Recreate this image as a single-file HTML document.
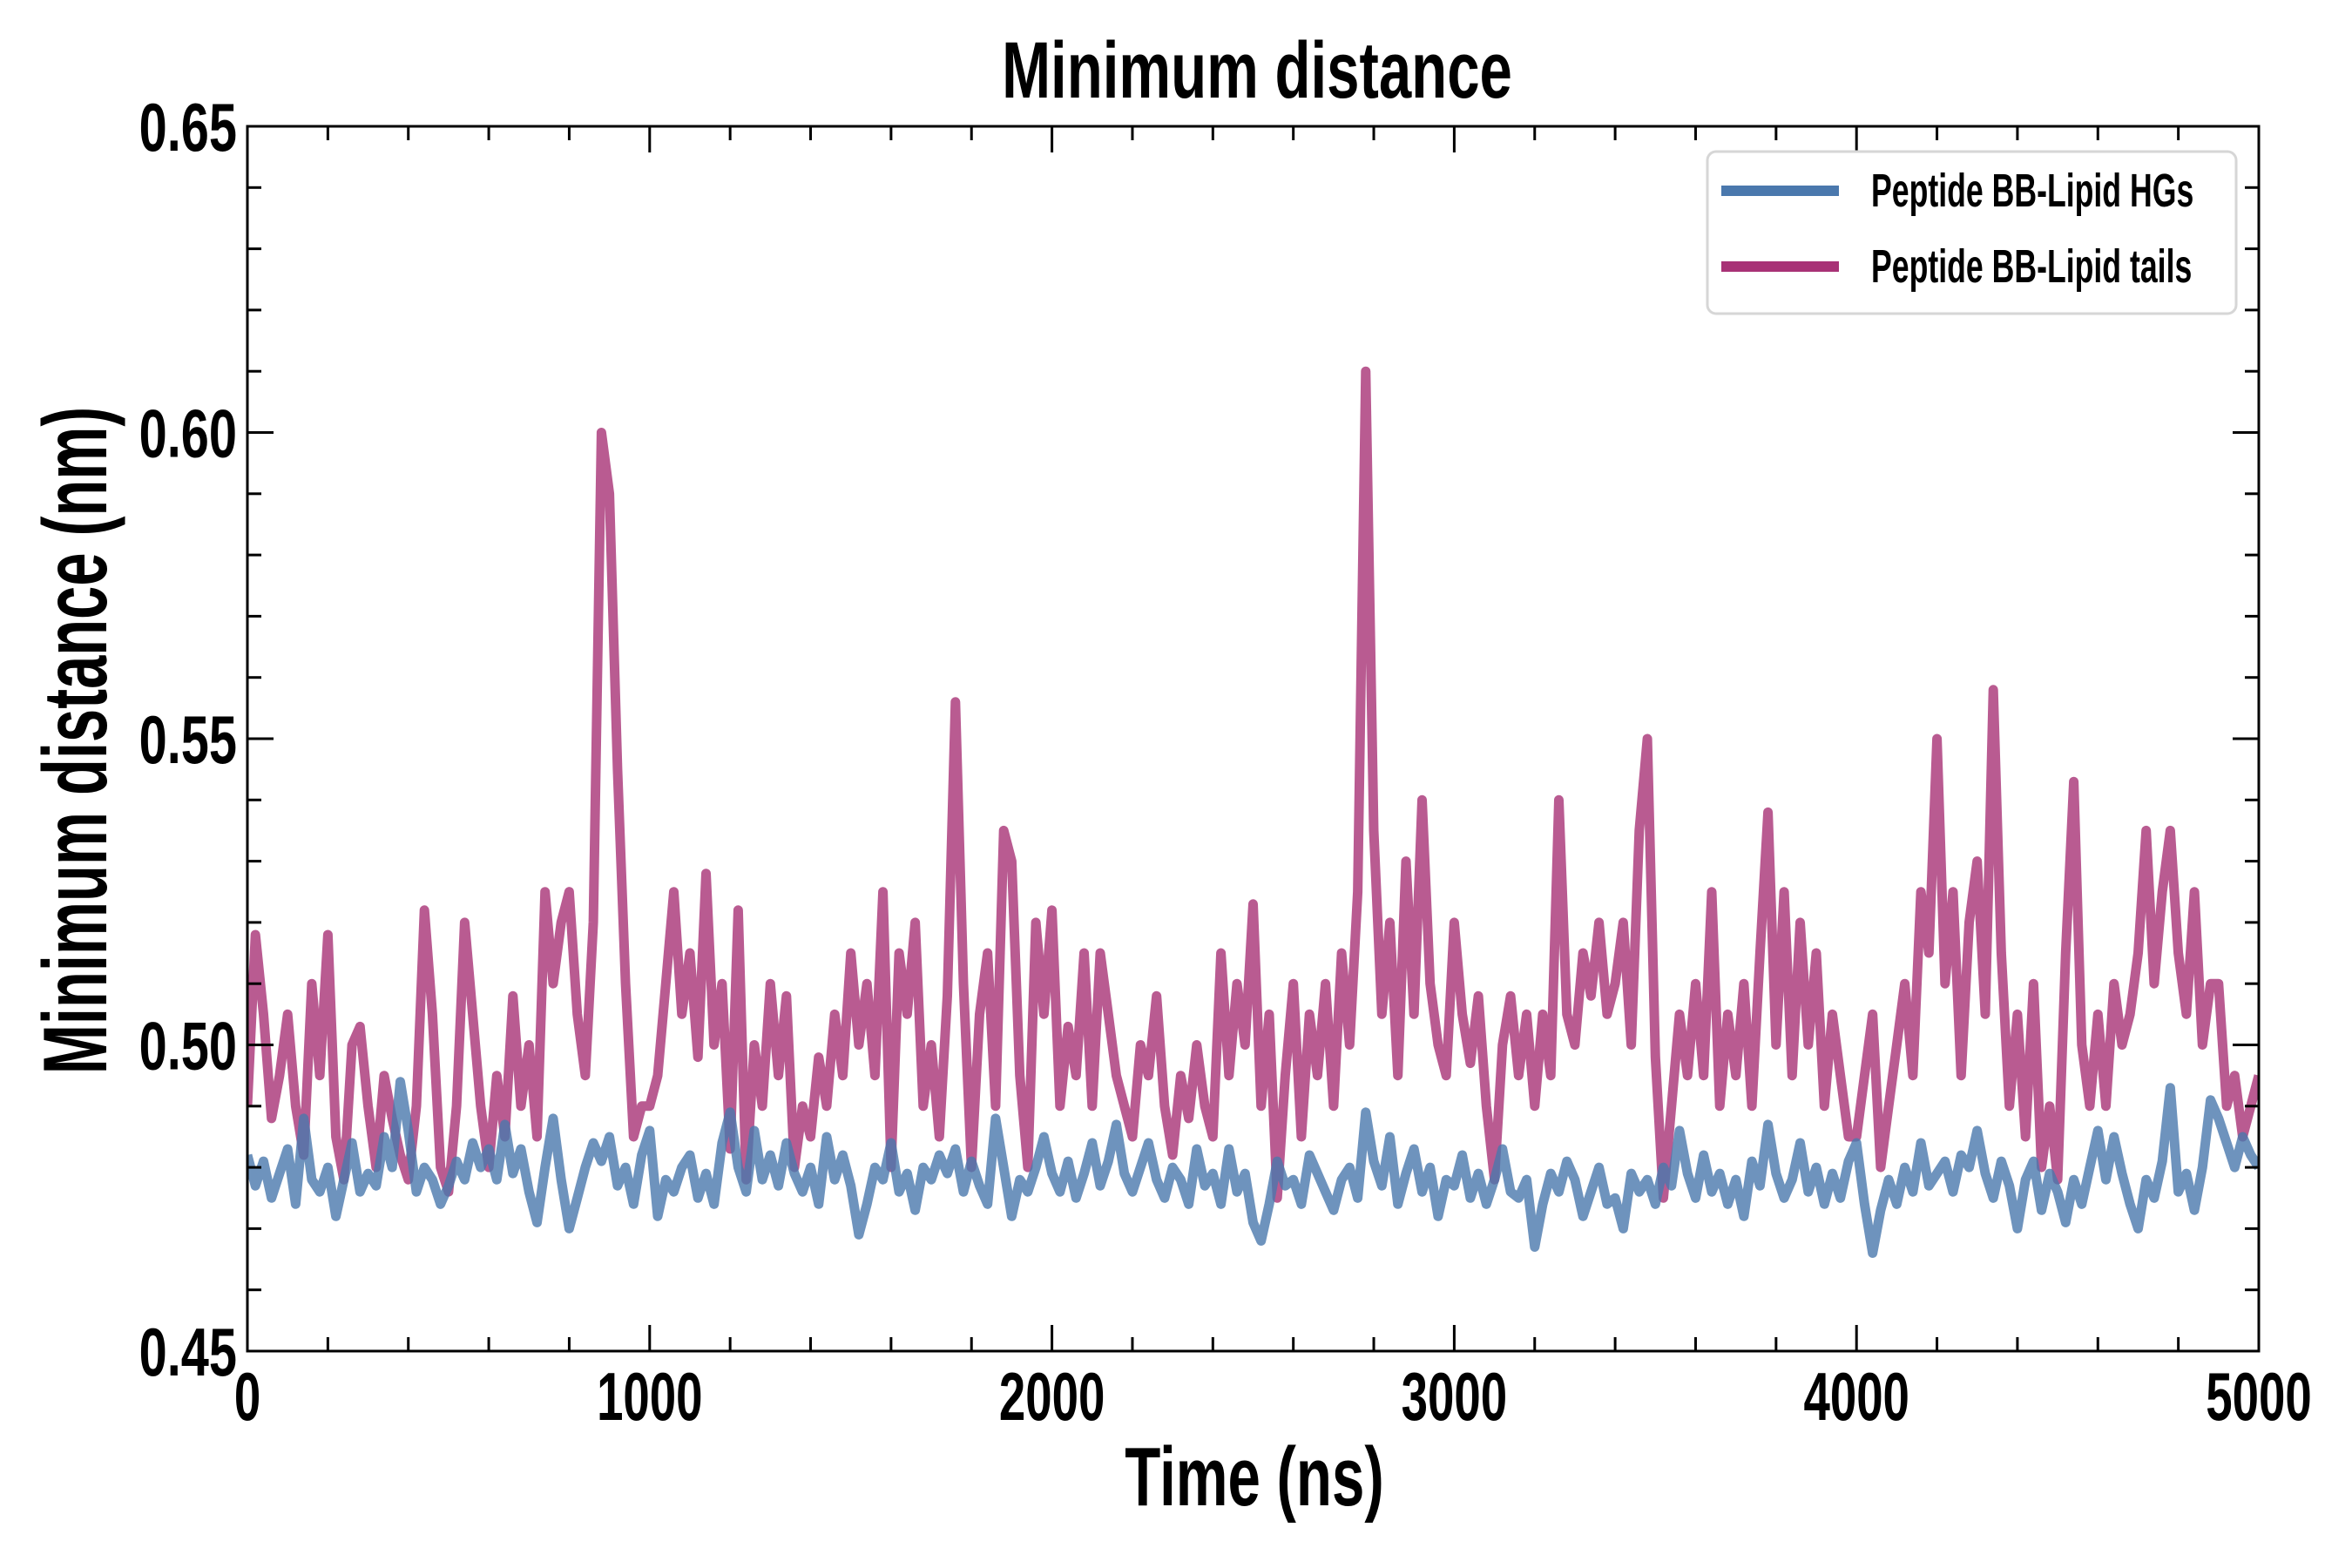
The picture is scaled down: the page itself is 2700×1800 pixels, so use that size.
<!DOCTYPE html>
<html><head><meta charset="utf-8">
<style>
html,body{margin:0;padding:0;background:#fff;}
svg{display:block;}
text{font-family:"Liberation Sans",sans-serif;font-weight:bold;fill:#000;}
</style></head>
<body>
<svg id="chart" width="2700" height="1800" viewBox="0 0 2700 1800">
  <g id="plot"></g>
</svg>
<script>
const timeStep = 20;
const tailsValues = [
0.49,0.518,0.505,0.488,0.495, 0.505,0.49,0.482,0.51,0.495, 0.518,0.485,0.478,0.5,0.503,
0.49,0.48,0.495,0.488,0.482, 0.478,0.49,0.522,0.505,0.48, 0.476,0.49,0.52,0.505,0.49,
0.48,0.495,0.485,0.508,0.49, 0.5,0.485,0.525,0.51,0.52, 0.525,0.505,0.495,0.52,0.6,
0.59,0.545,0.51,0.485,0.49, 0.49,0.495,0.51,0.525,0.505, 0.515,0.498,0.528,0.5,0.51,
0.483,0.522,0.478,0.5,0.49, 0.51,0.495,0.508,0.48,0.49, 0.485,0.498,0.49,0.505,0.495,
0.515,0.5,0.51,0.495,0.525, 0.48,0.515,0.505,0.52,0.49, 0.5,0.485,0.508,0.556,0.51,
0.48,0.505,0.515,0.49,0.535, 0.53,0.495,0.48,0.52,0.505, 0.522,0.49,0.503,0.495,0.515,
0.49,0.515,0.505,0.495,0.49, 0.485,0.5,0.495,0.508,0.49, 0.482,0.495,0.488,0.5,0.49,
0.485,0.515,0.495,0.51,0.5, 0.523,0.49,0.505,0.475,0.495, 0.51,0.485,0.505,0.495,0.51,
0.49,0.515,0.5,0.525,0.61, 0.535,0.505,0.52,0.495,0.53, 0.505,0.54,0.51,0.5,0.495,
0.52,0.505,0.497,0.508,0.49, 0.478,0.5,0.508,0.495,0.505, 0.49,0.505,0.495,0.54,0.505,
0.5,0.515,0.508,0.52,0.505, 0.51,0.52,0.5,0.535,0.55, 0.498,0.475,0.49,0.505,0.495,
0.51,0.495,0.525,0.49,0.505, 0.495,0.51,0.49,0.515,0.538, 0.5,0.525,0.495,0.52,0.5,
0.515,0.49,0.505,0.495,0.485, 0.485,0.495,0.505,0.48,0.49, 0.5,0.51,0.495,0.525,0.515,
0.55,0.51,0.525,0.495,0.52, 0.53,0.505,0.558,0.515,0.49, 0.505,0.485,0.51,0.48,0.49,
0.478,0.515,0.543,0.5,0.49, 0.505,0.49,0.51,0.5,0.505, 0.515,0.535,0.51,0.525,0.535,
0.515,0.505,0.525,0.5,0.51, 0.51,0.49,0.495,0.485,0.49, 0.495];
const hgsValues = [
0.482,0.477,0.481,0.475,0.479, 0.483,0.474,0.488,0.478,0.476, 0.48,0.472,0.478,0.484,0.476,
0.479,0.477,0.485,0.48,0.494, 0.486,0.476,0.48,0.478,0.474, 0.477,0.481,0.478,0.484,0.48,
0.483,0.478,0.487,0.479,0.483, 0.476,0.471,0.48,0.488,0.478, 0.47,0.475,0.48,0.484,0.481,
0.485,0.477,0.48,0.474,0.482, 0.486,0.472,0.478,0.476,0.48, 0.482,0.475,0.479,0.474,0.484,
0.489,0.48,0.476,0.486,0.478, 0.482,0.477,0.484,0.479,0.476, 0.48,0.474,0.485,0.478,0.482,
0.477,0.469,0.474,0.48,0.478, 0.484,0.476,0.479,0.473,0.48, 0.478,0.482,0.479,0.483,0.476,
0.481,0.477,0.474,0.488,0.48, 0.472,0.478,0.476,0.48,0.485, 0.479,0.476,0.481,0.475,0.479,
0.484,0.477,0.481,0.487,0.479, 0.476,0.48,0.484,0.478,0.475, 0.48,0.478,0.474,0.483,0.477,
0.479,0.474,0.483,0.476,0.479, 0.471,0.468,0.474,0.481,0.477, 0.478,0.474,0.482,0.479,0.476,
0.473,0.478,0.48,0.475,0.489, 0.481,0.477,0.485,0.474,0.479, 0.483,0.476,0.48,0.472,0.478,
0.477,0.482,0.475,0.479,0.474, 0.478,0.483,0.476,0.475,0.478, 0.467,0.474,0.479,0.476,0.481,
0.478,0.472,0.476,0.48,0.474, 0.475,0.47,0.479,0.476,0.478, 0.474,0.48,0.477,0.486,0.479,
0.475,0.482,0.476,0.479,0.474, 0.478,0.472,0.481,0.477,0.487, 0.479,0.475,0.478,0.484,0.476,
0.48,0.474,0.479,0.475,0.481, 0.484,0.474,0.466,0.473,0.478, 0.474,0.48,0.476,0.484,0.477,
0.479,0.481,0.476,0.482,0.48, 0.486,0.479,0.475,0.481,0.477, 0.47,0.478,0.481,0.473,0.479,
0.476,0.471,0.478,0.474,0.48, 0.486,0.478,0.485,0.479,0.474, 0.47,0.478,0.475,0.481,0.493,
0.476,0.479,0.473,0.48,0.491, 0.488,0.484,0.48,0.485,0.482, 0.48];
const xTicks = [0,1000,2000,3000,4000,5000];
const xTickLabels = ["0","1000","2000","3000","4000","5000"];
const yTicks = [0.45,0.50,0.55,0.60,0.65];
const yTickLabels = ["0.45","0.50","0.55","0.60","0.65"];
const legendLabels = ["Peptide BB-Lipid HGs","Peptide BB-Lipid tails"];

const L=284,R=2593,T=145,B=1551;
const xMin=0,xMax=5000,yMin=0.45,yMax=0.65;
const xs = t => L + (t-xMin)/(xMax-xMin)*(R-L);
const ys = v => B - (v-yMin)/(yMax-yMin)*(B-T);
const NS="http://www.w3.org/2000/svg";
const svg=document.getElementById('chart');
const plot=document.getElementById('plot');
function mk(tag,attrs,parent){const e=document.createElementNS(NS,tag);for(const k in attrs)e.setAttribute(k,attrs[k]);(parent||svg).appendChild(e);return e;}

const defs=mk('defs',{});
const cp=mk('clipPath',{id:'clip'},defs);
mk('rect',{x:L,y:T,width:R-L,height:B-T},cp);
plot.setAttribute('clip-path','url(#clip)');

function line(vals,color,name){
  const d=vals.map((v,i)=>(i?'L':'M')+xs(i*timeStep).toFixed(1)+','+ys(v).toFixed(1)).join('');
  const p=mk('path',{d:d,fill:'none',stroke:color,'stroke-width':11,'stroke-linejoin':'round','stroke-opacity':0.8},plot);
  
  
}
line(tailsValues,'#a83276','series-lipid-tails');
line(hgsValues,'#4a78ad','series-lipid-hgs');

const fr=mk('rect',{x:L,y:T,width:R-L,height:B-T,fill:'none',stroke:'#000','stroke-width':3});



for(let t=0;t<=5000;t+=200){
  const x=xs(t), maj=t%1000===0, len=maj?30:16;
  mk('line',{x1:x,x2:x,y1:B,y2:B-len,stroke:'#000','stroke-width':3});
  mk('line',{x1:x,x2:x,y1:T,y2:T+len,stroke:'#000','stroke-width':3});
}
xTicks.forEach((t,i)=>{
  const x=xs(t);
  const tx=mk('text',{x:x,y:1630,'font-size':78,'text-anchor':'middle',transform:`translate(${x},0) scale(0.7,1) translate(${-x},0)`});
  tx.textContent=xTickLabels[i];
  
  
});
for(let k=0;k<=20;k++){
  const v=0.45+k*0.01, y=ys(v), maj=k%5===0, len=maj?30:16;
  mk('line',{x1:L,x2:L+len,y1:y,y2:y,stroke:'#000','stroke-width':3});
  mk('line',{x1:R,x2:R-len,y1:y,y2:y,stroke:'#000','stroke-width':3});
}
yTicks.forEach((v,i)=>{
  const tx=mk('text',{x:272,y:ys(v)+28,'font-size':78,'text-anchor':'end',transform:`translate(272,0) scale(0.74,1) translate(-272,0)`});
  tx.textContent=yTickLabels[i];
  
  
});

const title=mk('text',{x:1443,y:112,'font-size':92,'text-anchor':'middle',transform:'translate(1443,0) scale(0.73,1) translate(-1443,0)'});
title.textContent='Minimum distance';


const xl=mk('text',{x:1440,y:1728,'font-size':96,'text-anchor':'middle',transform:'translate(1440,0) scale(0.7,1) translate(-1440,0)'});
xl.textContent='Time (ns)';


const yl=mk('text',{x:0,y:0,'font-size':104,'text-anchor':'middle',transform:'translate(122,850) rotate(-90) scale(0.66,1)'});
yl.textContent='Minimum distance (nm)';



const lg=mk('g',{});


mk('rect',{x:1960,y:174,width:607,height:186,rx:10,fill:'#fff','fill-opacity':0.85,stroke:'#d6d6d6','stroke-width':3},lg);
const lcols=['#4a78ad','#a83276'];
legendLabels.forEach((lab,i)=>{
  const y=219+i*87;
  const e=mk('g',{},lg);
  
  
  mk('line',{x1:1976,x2:2111,y1:y,y2:y,stroke:lcols[i],'stroke-width':12},e);
  const tx=mk('text',{x:2148,y:y+18,'font-size':54,transform:`translate(2148,0) scale(0.66,1) translate(-2148,0)`},e);
  tx.textContent=lab;
});
</script>
</body></html>
